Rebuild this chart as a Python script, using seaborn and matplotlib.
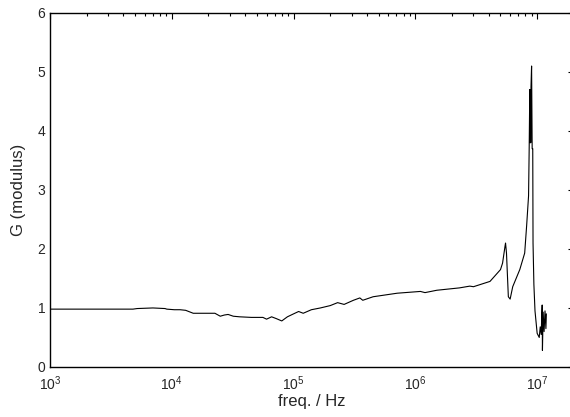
import matplotlib
matplotlib.use('Agg')
import matplotlib.pyplot as plt
import matplotlib.ticker as mticker
import pandas as pd
import seaborn as sns

# Frequency (Hz) and modulus of G
freq = [1e3, 2e3, 4.8e3, 5.2e3, 7e3, 8.8e3, 9.1e3, 1.05e4, 1.17e4, 1.3e4,
        1.5e4, 1.8e4, 2.26e4, 2.5e4, 2.7e4, 2.9e4, 3.2e4, 3.6e4, 4.5e4, 5.6e4,
        6.0e4, 6.6e4, 7.2e4, 8.0e4, 8.9e4, 1.0e5, 1.1e5, 1.2e5, 1.4e5, 1.66e5,
        2.0e5, 2.3e5, 2.6e5, 3.1e5, 3.5e5, 3.7e5, 4.5e5, 7.1e5, 1.1e6, 1.2e6,
        1.5e6, 2.3e6, 2.8e6, 3.0e6, 4.1e6, 5.0e6, 5.2e6, 5.45e6, 5.5e6, 5.6e6,
        5.8e6, 6.0e6, 6.3e6, 7.2e6, 7.9e6, 8.2e6, 8.5e6, 8.6e6, 8.7e6, 8.75e6,
        8.8e6, 8.85e6, 8.9e6, 9.0e6, 9.1e6, 9.2e6, 9.25e6, 9.4e6, 9.6e6, 1.0e7,
        1.04e7, 1.06e7, 1.08e7, 1.09e7, 1.1e7, 1.105e7, 1.12e7, 1.14e7, 1.16e7,
        1.18e7, 1.19e7]
G = [0.98, 0.98, 0.98, 0.99, 1.00, 0.99, 0.98, 0.97, 0.97, 0.96,
     0.91, 0.91, 0.91, 0.86, 0.88, 0.89, 0.86, 0.85, 0.84, 0.84,
     0.81, 0.85, 0.82, 0.78, 0.85, 0.90, 0.94, 0.91, 0.97, 1.00,
     1.04, 1.09, 1.06, 1.13, 1.17, 1.13, 1.19, 1.25, 1.28, 1.26,
     1.30, 1.34, 1.37, 1.36, 1.45, 1.65, 1.76, 2.05, 2.10, 1.93,
     1.19, 1.15, 1.36, 1.65, 1.93, 2.40, 2.90, 3.70, 4.70, 3.80,
     4.70, 3.80, 4.75, 5.10, 3.70, 3.70, 2.10, 1.40, 0.95, 0.57,
     0.50, 0.68, 0.55, 0.85, 1.05, 0.28, 0.93, 0.60, 0.95,
     0.65, 0.90]

df = pd.DataFrame({'freq': freq, 'G': G})

sns.set_style('white')
plt.rcParams['font.family'] = ['Liberation Sans', 'DejaVu Sans']

fig = plt.figure(figsize=(5.7, 4.17), dpi=100)
ax = fig.add_axes([0.0877, 0.12, 0.919, 0.849])

sns.lineplot(data=df, x='freq', y='G', sort=False, estimator=None,
             color='black', linewidth=0.8, ax=ax)

ax.set_xscale('log')
ax.set_xlim(1e3, 2e7)
ax.set_ylim(0, 6)
ax.set_yticks([0, 1, 2, 3, 4, 5, 6])
ax.xaxis.set_major_locator(mticker.LogLocator(base=10, numticks=10))
ax.xaxis.set_minor_locator(mticker.LogLocator(base=10, subs=range(2, 10), numticks=20))
ax.xaxis.set_minor_formatter(mticker.NullFormatter())

ax.tick_params(axis='both', which='both', direction='in', top=True, right=True,
               labelsize=10, width=0.8, color='black')
ax.tick_params(axis='both', which='major', length=4)
ax.tick_params(axis='x', which='minor', length=2)
ax.tick_params(axis='x', which='major', pad=5)
for s in ax.spines.values():
    s.set_color('black')
    s.set_linewidth(1.0)

ax.set_xlabel('freq. / Hz', fontsize=12, labelpad=1)
ax.set_ylabel('G (modulus)', fontsize=12, labelpad=8)

fig.savefig('out.png', dpi=100)
